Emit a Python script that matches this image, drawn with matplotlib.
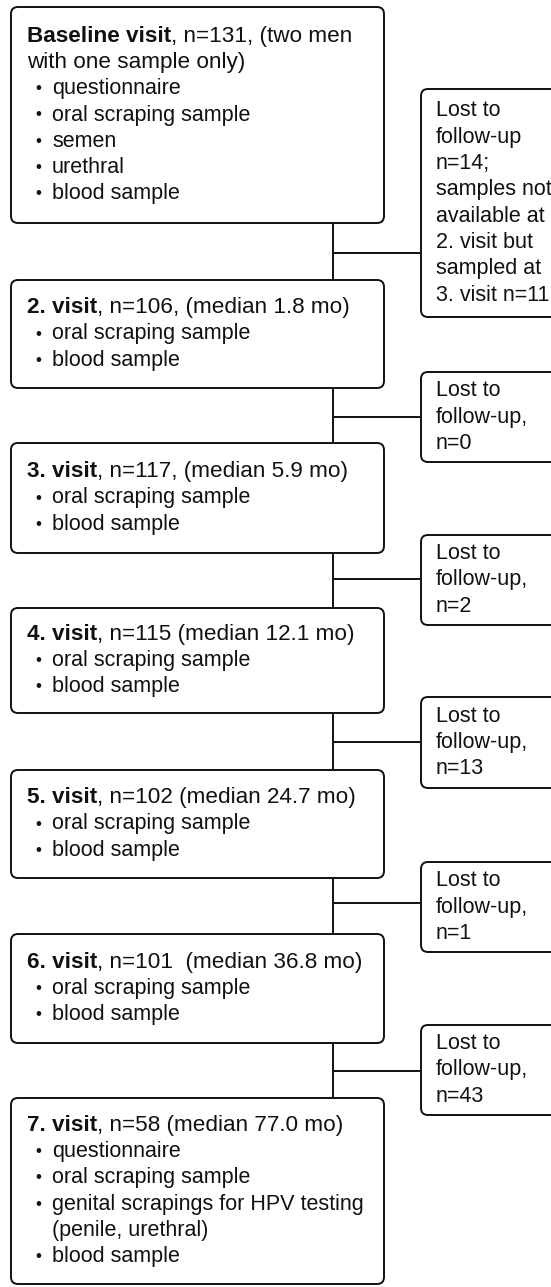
"""Flow of visits and samples in the follow-up cohort."""
import matplotlib
matplotlib.use("Agg")
import matplotlib.pyplot as plt
from matplotlib.patches import FancyBboxPatch

plt.rcParams["font.family"] = ["Liberation Sans", "DejaVu Sans"]

# --- data -------------------------------------------------------------
visit_titles = ["Baseline visit", "2. visit", "3. visit", "4. visit",
                "5. visit", "6. visit", "7. visit"]
visit_info = [", n=131, (two men\nwith one sample only)",
              ", n=106, (median 1.8 mo)",
              ", n=117, (median 5.9 mo)",
              ", n=115 (median 12.1 mo)",
              ", n=102 (median 24.7 mo)",
              ", n=101  (median 36.8 mo)",
              ", n=58 (median 77.0 mo)"]
visit_items = [
    ["questionnaire", "oral scraping sample", "semen", "urethral", "blood sample"],
    ["oral scraping sample", "blood sample"],
    ["oral scraping sample", "blood sample"],
    ["oral scraping sample", "blood sample"],
    ["oral scraping sample", "blood sample"],
    ["oral scraping sample", "blood sample"],
    ["questionnaire", "oral scraping sample",
     "genital scrapings for HPV testing\n(penile, urethral)", "blood sample"],
]
lost_text = [
    "Lost to\nfollow-up\nn=14;\nsamples not\navailable at\n2. visit but\nsampled at\n3. visit n=11",
    "Lost to\nfollow-up,\nn=0",
    "Lost to\nfollow-up,\nn=2",
    "Lost to\nfollow-up,\nn=13",
    "Lost to\nfollow-up,\nn=1",
    "Lost to\nfollow-up,\nn=43",
]

# --- layout (pixels) --------------------------------------------------
W, H = 551, 1287
box_x0, box_x1 = 11, 384
box_top = [7, 280, 443, 608, 770, 934, 1098]
box_bot = [223, 388, 553, 713, 878, 1043, 1284]
side_x0 = 421
side_top = [89, 372, 535, 697, 862, 1025]
side_bot = [317, 462, 625, 788, 952, 1115]
branch_y = [253, 417, 579, 742, 903, 1071]
trunk_x = 333
FS_HEAD = 16.2
FS = 15.5
LH = 26.3
LW = 1.4
INK = "#111111"

fig = plt.figure(figsize=(W / 100, H / 100), dpi=100)
ax = fig.add_axes([0, 0, 1, 1])
ax.set_xlim(0, W)
ax.set_ylim(H, 0)
ax.axis("off")


def rbox(x0, y0, x1, y1):
    ax.add_patch(FancyBboxPatch((x0, y0), x1 - x0, y1 - y0,
                                boxstyle="round,pad=0,rounding_size=7",
                                facecolor="white", edgecolor=INK, linewidth=LW,
                                zorder=2))


# main visit boxes
for i, title in enumerate(visit_titles):
    rbox(box_x0, box_top[i], box_x1, box_bot[i])
    info_lines = visit_info[i].split("\n")
    lines = []
    for it in visit_items[i]:
        for k, part in enumerate(it.split("\n")):
            lines.append((part, k == 0))
    n_lines = len(info_lines) + len(lines)
    y = (box_top[i] + box_bot[i]) / 2 - (n_lines - 1) * LH / 2
    t = ax.text(27, y, title, fontsize=FS_HEAD, fontweight="bold", color=INK,
                ha="left", va="center", zorder=3)
    ax.annotate(info_lines[0], xy=(1, 0), xycoords=t, fontsize=FS_HEAD, color=INK,
                ha="left", va="bottom", zorder=3)
    for extra in info_lines[1:]:
        y += LH
        ax.text(27, y, extra, fontsize=FS_HEAD, color=INK, ha="left",
                va="center", zorder=3)
    for part, bullet in lines:
        y += LH
        if bullet:
            ax.text(35, y, "•", fontsize=FS * 0.8, color=INK, ha="left",
                    va="center", zorder=3)
        ax.text(52, y, part, fontsize=FS, color=INK, ha="left", va="center", zorder=3)

# trunk between consecutive boxes
for i in range(len(visit_titles) - 1):
    ax.plot([trunk_x, trunk_x], [box_bot[i], box_top[i + 1]], color=INK,
            lw=LW, zorder=1, solid_capstyle="butt")

# lost-to-follow-up boxes
for j, txt in enumerate(lost_text):
    ax.plot([trunk_x, side_x0], [branch_y[j], branch_y[j]], color=INK,
            lw=LW, zorder=1, solid_capstyle="butt")
    rbox(side_x0, side_top[j], W + 20, side_bot[j])
    rows = txt.split("\n")
    y = (side_top[j] + side_bot[j]) / 2 - (len(rows) - 1) * LH / 2
    for r in rows:
        ax.text(436, y, r, fontsize=FS, color=INK, ha="left", va="center", zorder=3)
        y += LH

fig.savefig("out.png", dpi=100, facecolor="white")
